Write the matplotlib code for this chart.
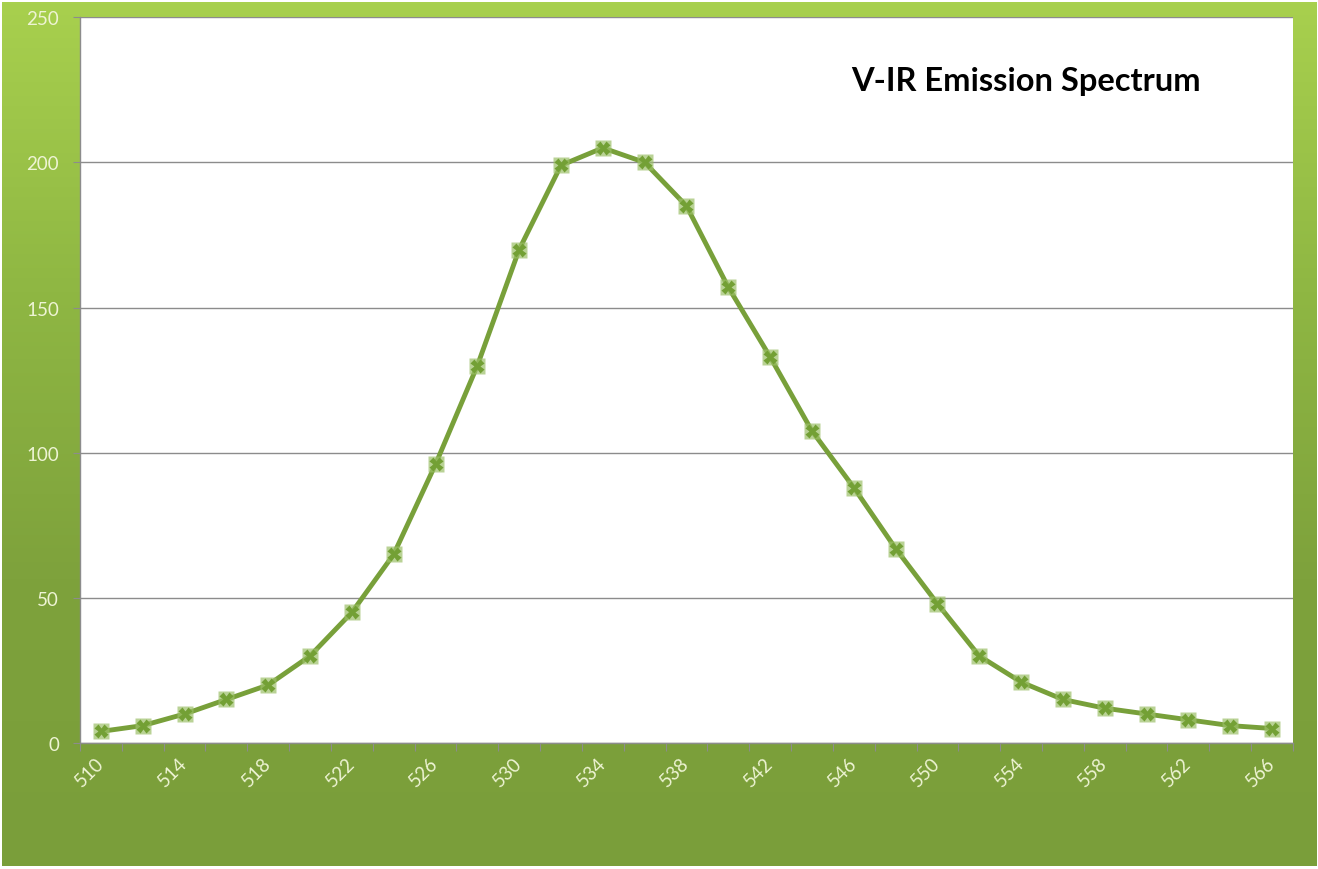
import numpy as np
import matplotlib
matplotlib.use("Agg")
import matplotlib.pyplot as plt
from matplotlib.colors import LinearSegmentedColormap

# wavelength (nm) and emission intensity
wavelength = [510, 512, 514, 516, 518, 520, 522, 524, 526, 528, 530, 532, 534, 536, 538,
              540, 542, 544, 546, 548, 550, 552, 554, 556, 558, 560, 562, 564, 566]
intensity = [4, 6, 10, 15, 20, 30, 45, 65, 96, 130, 170, 199, 205, 200, 185,
             157, 133, 107.5, 88, 67, 48, 30, 21, 15, 12, 10, 8, 6, 5]
y_ticks = [0, 50, 100, 150, 200, 250]
title = "V-IR Emission Spectrum"

plt.rcParams["font.family"] = ["Lato", "DejaVu Sans"]

fig = plt.figure(figsize=(13.18, 8.70), dpi=100)

# green gradient background
bg = fig.add_axes([0.0015, 0.003, 0.997, 0.994], zorder=0)
cmap = LinearSegmentedColormap.from_list("bg", ["#a8d04e", "#8fb743", "#7ea23c", "#7a9e3a"])
grad = np.linspace(0, 1, 256).reshape(-1, 1)
bg.imshow(grad, aspect="auto", cmap=cmap, extent=[0, 1, 0, 1])
bg.set_axis_off()

ax = fig.add_axes([0.0607, 0.1448, 0.9203, 0.8342], zorder=1)
ax.set_facecolor("white")

line_col = "#78a03a"
ax.plot(wavelength, intensity, color=line_col, lw=3.5, zorder=3)
ax.plot(wavelength, intensity, ls="none", marker="s", ms=12,
        mfc="#9cc069", mec="none", alpha=0.7, zorder=4)
ax.plot(wavelength, intensity, ls="none", marker="X", ms=10,
        mfc="#73a035", mec="none", zorder=5)

ax.set_xlim(509, 567)
ax.set_ylim(0, 250)

# category-style boundary tick marks, labels every 4 nm
ax.set_xticks(np.arange(509, 568, 2))
ax.set_xticklabels([])
ax.set_xticks(wavelength[::2], [str(w) for w in wavelength[::2]], minor=True)
ax.tick_params(axis="x", which="major", length=6, color="#8c8c8c", direction="out")
ax.tick_params(axis="x", which="minor", length=0, pad=12, labelsize=13.5,
               labelcolor="#eef4d4")
for lab in ax.get_xticklabels(minor=True):
    lab.set_rotation(45)
    lab.set_ha("right")
    lab.set_va("center")
    lab.set_rotation_mode("anchor")

ax.set_yticks(y_ticks)
ax.tick_params(axis="y", length=5, color="#8c8c8c", labelsize=13.5,
               labelcolor="#eef4d4", pad=10)
ax.grid(axis="y", color="#8c8c8c", lw=1)
ax.set_axisbelow(True)

for side in ["top", "right"]:
    ax.spines[side].set_visible(False)
for side in ["left", "bottom"]:
    ax.spines[side].set_color("#8c8c8c")
    ax.spines[side].set_linewidth(1)

ax.text(0.924, 0.913, title, transform=ax.transAxes, ha="right", va="center",
        fontsize=23.5, fontweight="bold", color="black")

fig.savefig("out.png", dpi=100)
